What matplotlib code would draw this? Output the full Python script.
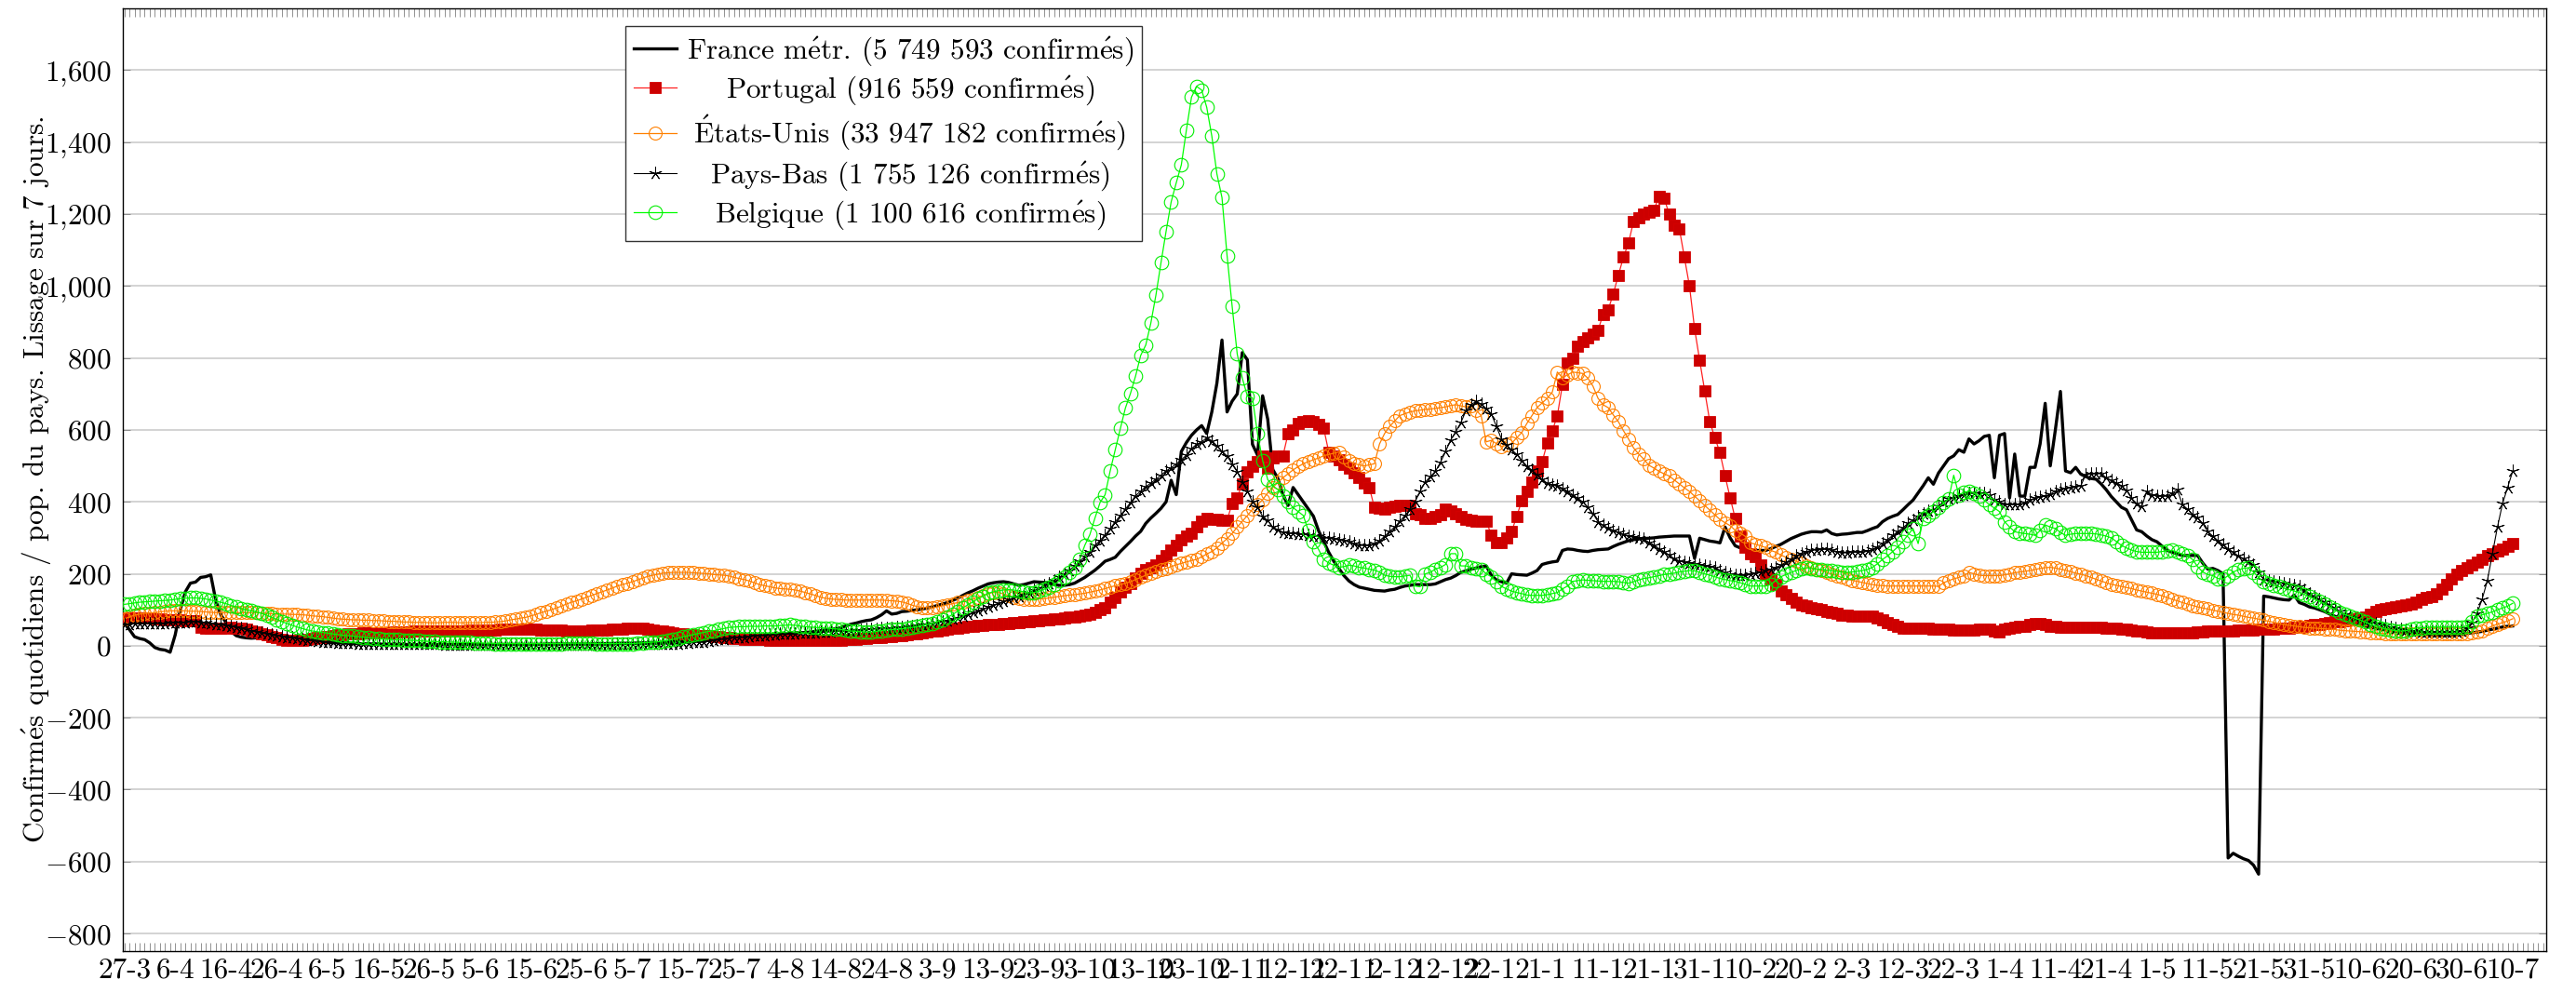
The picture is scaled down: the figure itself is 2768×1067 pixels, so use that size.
import numpy as np
import matplotlib
matplotlib.use("Agg")
import matplotlib.pyplot as plt
from matplotlib.ticker import FixedLocator, MultipleLocator, FuncFormatter

plt.rcParams['font.family'] = ['cmr10', 'DejaVu Serif']
plt.rcParams['mathtext.fontset'] = 'cm'
plt.rcParams['axes.formatter.use_mathtext'] = True

# jours depuis le 27-3-2020, une valeur par jour
france = [
    62, 45, 25, 20, 17, 8, -5, -10, -12, -18,
    30, 100, 150, 174, 177, 190, 192, 197, 125, 85,
    65, 40, 28, 24, 22, 21, 22, 26, 23, 19,
    18, 17, 16, 15, 14, 13, 12, 11, 10, 9,
    9, 8, 8, 7, 7, 6, 6, 5, 5, 5,
    5, 4, 4, 4, 4, 4, 3, 3, 3, 3,
    3, 3, 3, 3, 3, 3, 3, 3, 3, 3,
    3, 3, 3, 4, 4, 4, 4, 4, 4, 4,
    4, 4, 4, 5, 5, 5, 5, 5, 5, 5,
    5, 5, 6, 6, 6, 6, 6, 7, 7, 7,
    7, 8, 8, 8, 9, 9, 10, 11, 12, 13,
    14, 15, 16, 17, 18, 19, 19, 20, 21, 22,
    23, 24, 25, 26, 27, 28, 29, 30, 31, 32,
    33, 34, 35, 36, 37, 38, 40, 42, 44, 46,
    47, 50, 55, 60, 63, 67, 70, 72, 78, 86,
    97, 88, 90, 95, 96, 98, 100, 102, 105, 108,
    112, 116, 120, 126, 132, 140, 147, 153, 160, 166,
    172, 175, 177, 178, 176, 172, 168, 170, 174, 178,
    177, 176, 174, 170, 168, 168, 170, 174, 182, 190,
    200, 210, 222, 235, 240, 246, 262, 276, 290, 305,
    318, 340, 355, 368, 382, 400, 460, 420, 540, 565,
    585, 600, 612, 590, 650, 730, 850, 650, 680, 700,
    815, 795, 560, 530, 695, 630, 490, 465, 420, 390,
    440, 420, 400, 380, 360, 320, 290, 260, 235, 215,
    195, 180, 170, 163, 160, 157, 154, 153, 152, 155,
    157, 162, 166, 168, 170, 170, 170, 170, 172, 178,
    184, 188, 195, 204, 208, 213, 216, 220, 222, 196,
    183, 178, 174, 200, 198, 197, 196, 202, 209, 226,
    230, 233, 235, 265, 269, 268, 265, 263, 262, 265,
    267, 268, 269, 276, 282, 287, 292, 295, 297, 298,
    299, 300, 302, 303, 304, 305, 305, 305, 305, 243,
    299, 295, 291, 289, 286, 330, 300, 278, 272, 268,
    265, 265, 265, 265, 270, 276, 282, 290, 298, 304,
    310, 314, 317, 317, 316, 322, 312, 308, 310, 311,
    313, 315, 315, 320, 326, 331, 345, 354, 360, 365,
    378, 392, 405, 425, 445, 467, 449, 480, 500, 520,
    528, 545, 538, 575, 561, 570, 582, 585, 467, 585,
    590, 411, 533, 416, 416, 496, 496, 561, 674, 500,
    600, 707, 486, 481, 496, 477, 470, 465, 463, 450,
    434, 415, 400, 385, 378, 350, 322, 317, 305, 295,
    289, 277, 265, 260, 255, 251, 251, 251, 251, 230,
    213, 215, 209, 200, -590, -577, -585, -592, -597, -610,
    -635, 138, 136, 133, 130, 128, 127, 141, 120, 115,
    108, 105, 100, 95, 88, 82, 76, 72, 66, 62,
    58, 55, 52, 49, 46, 44, 42, 40, 38, 36,
    35, 34, 33, 32, 31, 30, 30, 30, 30, 31,
    32, 34, 36, 38, 40, 43, 46, 49, 52, 54,
    55,
]

portugal = [
    78, 78, 77, 77, 76, 76, 75, 74, 73, 72,
    72, 71, 70, 70, 69, 52, 50, 49, 49, 48,
    50, 52, 50, 48, 46, 42, 38, 34, 30, 26,
    22, 18, 16, 15, 15, 16, 18, 20, 22, 24,
    26, 28, 30, 31, 32, 33, 34, 35, 35, 36,
    36, 37, 37, 38, 38, 39, 39, 40, 40, 40,
    40, 40, 41, 41, 41, 42, 42, 42, 43, 43,
    43, 44, 44, 44, 45, 45, 45, 45, 45, 45,
    45, 45, 44, 44, 43, 43, 43, 42, 42, 42,
    42, 42, 43, 43, 44, 44, 45, 46, 47, 48,
    48, 49, 48, 46, 44, 42, 40, 38, 36, 34,
    32, 31, 30, 29, 28, 27, 26, 25, 24, 22,
    21, 20, 19, 18, 18, 17, 17, 16, 16, 15,
    15, 15, 15, 15, 15, 15, 15, 15, 15, 15,
    15, 16, 17, 18, 19, 20, 21, 22, 23, 24,
    25, 26, 27, 28, 30, 32, 34, 36, 38, 40,
    42, 44, 46, 48, 50, 52, 54, 55, 56, 57,
    58, 59, 60, 61, 62, 64, 65, 66, 68, 69,
    70, 71, 72, 74, 75, 77, 79, 81, 83, 85,
    88, 93, 100, 107, 120, 135, 150, 162, 174, 188,
    202, 213, 218, 224, 238, 251, 265, 279, 295, 305,
    312, 330, 346, 353, 352, 351, 350, 349, 395, 412,
    451, 484, 500, 512, 528, 495, 523, 528, 528, 589,
    600, 617, 622, 626, 622, 615, 606, 539, 528, 517,
    505, 495, 480, 467, 452, 440, 384, 382, 379, 384,
    387, 390, 390, 390, 366, 364, 355, 355, 360, 364,
    381, 375, 368, 360, 351, 349, 347, 347, 347, 308,
    286, 286, 300, 317, 360, 403, 429, 455, 485, 511,
    563, 597, 640, 726, 787, 800, 834, 847, 856, 866,
    877, 921, 934, 978, 1030, 1080, 1120, 1180, 1190, 1200,
    1205, 1210, 1250, 1245, 1200, 1170, 1160, 1080, 1000, 882,
    794, 708, 623, 578, 537, 472, 412, 354, 304, 274,
    256, 248, 225, 200, 185, 170, 153, 142, 131, 122,
    114, 110, 106, 104, 100, 96, 93, 90, 86, 84,
    83, 82, 82, 82, 82, 78, 72, 65, 58, 54,
    50, 49, 49, 49, 49, 48, 47, 46, 45, 45,
    44, 44, 44, 44, 44, 45, 46, 46, 42, 39,
    45, 49, 51, 53, 54, 58, 63, 61, 58, 54,
    53, 52, 52, 52, 52, 52, 52, 52, 52, 51,
    50, 49, 48, 47, 45, 43, 41, 40, 39, 37,
    35, 35, 35, 35, 35, 36, 36, 37, 38, 39,
    40, 40, 41, 41, 42, 42, 43, 43, 44, 44,
    45, 45, 46, 47, 48, 49, 50, 51, 52, 54,
    56, 58, 60, 62, 64, 66, 68, 70, 72, 75,
    78, 81, 88, 95, 100, 103, 106, 108, 111, 114,
    117, 122, 128, 134, 138, 145, 158, 171, 185, 200,
    208, 216, 224, 233, 241, 250, 257, 264, 270, 276,
    283,
]

etats_unis = [
    75, 80, 85, 88, 90, 91, 92, 94, 96, 97,
    97, 97, 97, 96, 96, 95, 94, 93, 92, 92,
    92, 92, 92, 92, 92, 92, 92, 91, 90, 89,
    88, 88, 88, 87, 87, 86, 85, 83, 82, 81,
    79, 77, 75, 74, 73, 72, 72, 71, 71, 70,
    70, 69, 68, 68, 67, 66, 66, 65, 65, 65,
    64, 64, 64, 65, 65, 65, 64, 64, 64, 64,
    64, 65, 65, 66, 67, 69, 72, 74, 77, 79,
    83, 87, 92, 96, 100, 105, 110, 116, 121, 125,
    130, 135, 140, 145, 150, 155, 160, 166, 170, 174,
    178, 183, 188, 193, 196, 199, 202, 203, 204, 204,
    204, 204, 203, 202, 201, 200, 198, 197, 196, 194,
    190, 187, 184, 180, 175, 170, 167, 164, 161, 159,
    158, 157, 155, 152, 148, 144, 140, 135, 132, 130,
    129, 128, 127, 127, 127, 127, 127, 127, 127, 127,
    126, 125, 124, 122, 118, 113, 109, 107, 106, 105,
    108, 111, 114, 117, 120, 122, 126, 130, 135, 140,
    145, 148, 148, 144, 140, 135, 131, 130, 130, 130,
    130, 131, 133, 135, 137, 139, 141, 142, 144, 146,
    149, 152, 155, 159, 163, 167, 170, 174, 178, 184,
    190, 196, 201, 206, 211, 215, 220, 225, 229, 233,
    237, 240, 247, 255, 262, 272, 285, 298, 312, 330,
    346, 362, 379, 392, 406, 425, 440, 454, 467, 478,
    489, 498, 506, 512, 517, 522, 528, 532, 535, 539,
    525, 515, 506, 503, 500, 503, 506, 561, 590, 610,
    625, 640, 645, 650, 653, 655, 657, 658, 660, 662,
    664, 668, 670, 667, 664, 666, 655, 640, 567, 571,
    562, 554, 558, 563, 578, 593, 618, 640, 662, 675,
    688, 705, 761, 745, 753, 761, 759, 757, 744, 722,
    688, 670, 662, 642, 623, 598, 575, 550, 533, 519,
    502, 494, 485, 478, 472, 461, 450, 439, 429, 416,
    403, 390, 377, 364, 351, 342, 334, 321, 313, 304,
    286, 282, 278, 273, 265, 260, 252, 246, 240, 235,
    229, 223, 217, 213, 209, 204, 199, 195, 190, 185,
    182, 179, 176, 173, 170, 168, 167, 166, 166, 166,
    166, 166, 166, 166, 166, 166, 166, 165, 175, 181,
    186, 190, 195, 204, 200, 196, 195, 195, 195, 195,
    197, 200, 203, 205, 207, 209, 212, 215, 217, 218,
    216, 213, 210, 206, 202, 199, 195, 190, 185, 180,
    175, 171, 168, 165, 162, 159, 155, 152, 149, 146,
    143, 139, 134, 129, 125, 120, 116, 112, 108, 105,
    102, 99, 96, 93, 90, 87, 85, 82, 79, 77,
    74, 71, 68, 65, 62, 59, 57, 55, 53, 51,
    50, 49, 48, 47, 46, 45, 43, 42, 41, 40,
    39, 38, 37, 36, 35, 34, 34, 33, 33, 32,
    32, 32, 32, 32, 32, 32, 32, 32, 32, 32,
    33, 34, 35, 38, 42, 48, 55, 60, 64, 69,
    75,
]

pays_bas = [
    60, 60, 61, 61, 62, 62, 62, 63, 63, 64,
    64, 65, 65, 66, 66, 65, 64, 62, 60, 58,
    56, 54, 51, 48, 45, 42, 39, 36, 33, 31,
    28, 26, 24, 22, 20, 18, 16, 14, 12, 11,
    10, 9, 8, 8, 7, 7, 6, 6, 6, 5,
    5, 5, 5, 4, 4, 4, 4, 4, 4, 4,
    4, 4, 4, 3, 3, 3, 3, 3, 3, 3,
    3, 3, 3, 3, 3, 3, 3, 3, 3, 3,
    3, 3, 3, 3, 3, 3, 3, 3, 3, 3,
    3, 3, 3, 3, 3, 3, 3, 4, 4, 4,
    4, 4, 4, 5, 5, 5, 5, 5, 6, 6,
    7, 8, 9, 10, 11, 13, 15, 17, 19, 21,
    22, 23, 24, 26, 27, 28, 29, 30, 31, 32,
    33, 34, 34, 35, 36, 36, 37, 38, 38, 39,
    40, 40, 41, 42, 43, 44, 45, 46, 47, 48,
    49, 50, 51, 52, 54, 55, 57, 58, 60, 62,
    64, 67, 70, 74, 78, 82, 87, 92, 97, 102,
    108, 113, 118, 123, 128, 133, 138, 143, 148, 154,
    160, 167, 174, 182, 191, 200, 210, 222, 235, 248,
    262, 278, 293, 308, 325, 345, 362, 380, 398, 417,
    430, 442, 452, 463, 474, 486, 495, 505, 517, 530,
    548, 560, 567, 578, 570, 556, 540, 528, 505, 484,
    455, 430, 400, 384, 360, 348, 330, 322, 316, 314,
    312, 311, 310, 308, 306, 304, 301, 299, 297, 295,
    292, 289, 285, 280, 279, 279, 284, 292, 304, 318,
    330, 346, 362, 380, 400, 430, 455, 470, 485, 510,
    540, 572, 595, 620, 653, 670, 679, 672, 660, 645,
    610, 575, 558, 545, 532, 515, 500, 488, 476, 463,
    452, 448, 445, 438, 430, 420, 410, 400, 385, 368,
    345, 335, 327, 321, 316, 310, 306, 303, 300, 296,
    288, 280, 270, 262, 252, 242, 236, 232, 230, 228,
    226, 223, 220, 217, 210, 203, 199, 197, 196, 196,
    198, 201, 204, 208, 213, 218, 224, 232, 240, 250,
    257, 262, 265, 267, 268, 268, 266, 262, 259, 259,
    260, 260, 260, 263, 268, 275, 285, 295, 307, 317,
    328, 340, 350, 360, 368, 374, 378, 388, 401, 408,
    412, 416, 420, 425, 425, 425, 424, 418, 406, 400,
    394, 392, 392, 392, 398, 406, 410, 414, 416, 422,
    430, 434, 437, 439, 442, 444, 477, 478, 479, 479,
    467, 460, 453, 445, 432, 410, 395, 387, 430, 420,
    416, 416, 416, 425, 434, 392, 380, 365, 356, 340,
    317, 305, 292, 281, 270, 260, 250, 242, 235, 225,
    205, 184, 180, 177, 175, 173, 170, 167, 164, 155,
    145, 138, 130, 122, 114, 105, 96, 88, 80, 76,
    72, 68, 65, 62, 59, 56, 52, 49, 46, 43,
    41, 40, 39, 38, 38, 38, 38, 38, 38, 39,
    42, 50, 65, 90, 130, 180, 255, 330, 395, 440,
    485,
]

belgique = [
    115, 117, 119, 121, 122, 123, 124, 125, 126, 127,
    129, 131, 132, 133, 133, 132, 130, 127, 124, 121,
    117, 112, 108, 103, 100, 97, 94, 90, 85, 79,
    73, 67, 62, 57, 52, 48, 44, 41, 39, 37,
    35, 33, 31, 29, 28, 27, 25, 24, 22, 21,
    20, 19, 18, 17, 17, 16, 15, 15, 14, 13,
    12, 12, 11, 11, 10, 10, 9, 9, 9, 8,
    8, 7, 7, 6, 6, 6, 6, 6, 6, 6,
    6, 6, 6, 6, 6, 6, 6, 7, 7, 7,
    7, 7, 7, 6, 6, 6, 6, 6, 6, 6,
    6, 7, 8, 9, 10, 11, 13, 15, 18, 21,
    25, 28, 31, 34, 37, 40, 42, 45, 48, 51,
    52, 53, 53, 54, 54, 54, 55, 55, 55, 56,
    57, 58, 57, 55, 53, 52, 51, 50, 49, 48,
    47, 45, 43, 41, 40, 39, 38, 38, 40, 42,
    44, 45, 46, 47, 49, 51, 53, 56, 59, 62,
    67, 73, 79, 87, 96, 105, 114, 122, 131, 138,
    146, 150, 153, 155, 156, 155, 152, 150, 147, 148,
    152, 157, 162, 170, 180, 192, 205, 218, 240, 279,
    309, 355, 398, 420, 486, 545, 604, 661, 702, 750,
    807, 836, 897, 975, 1065, 1152, 1234, 1287, 1337, 1434,
    1525, 1555, 1545, 1497, 1417, 1312, 1246, 1085, 944, 811,
    744, 694, 689, 589, 515, 462, 445, 434, 417, 400,
    384, 373, 362, 320, 290, 268, 240, 230, 224, 218,
    220, 224, 222, 218, 216, 213, 210, 205, 196, 193,
    192, 192, 194, 196, 166, 164, 200, 204, 213, 218,
    226, 256, 256, 222, 222, 218, 215, 213, 200, 192,
    179, 165, 158, 152, 148, 145, 141, 140, 140, 140,
    142, 145, 148, 158, 166, 179, 181, 183, 182, 181,
    180, 179, 179, 179, 178, 176, 174, 178, 183, 187,
    189, 192, 195, 198, 200, 202, 205, 207, 209, 208,
    204, 200, 196, 192, 187, 184, 181, 179, 175, 171,
    166, 166, 166, 166, 170, 182, 192, 198, 204, 209,
    214, 217, 215, 213, 212, 210, 209, 207, 205, 204,
    205, 207, 209, 212, 218, 228, 240, 250, 262, 275,
    290, 308, 326, 284, 354, 362, 373, 385, 397, 408,
    474, 420, 426, 430, 425, 416, 405, 392, 383, 373,
    345, 330, 317, 314, 312, 310, 307, 320, 336, 330,
    326, 315, 307, 310, 312, 312, 312, 312, 311, 308,
    305, 300, 290, 279, 272, 266, 262, 260, 260, 260,
    260, 262, 264, 265, 260, 255, 250, 240, 220, 205,
    198, 195, 187, 185, 195, 205, 211, 215, 217, 205,
    190, 177, 172, 168, 164, 160, 156, 152, 148, 143,
    136, 130, 123, 116, 108, 100, 93, 87, 82, 77,
    71, 66, 60, 55, 50, 47, 44, 42, 41, 42,
    46, 49, 50, 51, 52, 52, 52, 52, 52, 52,
    52, 55, 68, 82, 86, 90, 94, 100, 105, 110,
    118,
]

tick_labels = ['27-3', '6-4', '16-4', '26-4', '6-5', '16-5', '26-5', '5-6', '15-6',
               '25-6', '5-7', '15-7', '25-7', '4-8', '14-8', '24-8', '3-9', '13-9',
               '23-9', '3-10', '13-10', '23-10', '2-11', '12-11', '22-11', '2-12',
               '12-12', '22-12', '1-1', '11-1', '21-1', '31-1', '10-2', '20-2', '2-3',
               '12-3', '22-3', '1-4', '11-4', '21-4', '1-5', '11-5', '21-5', '31-5',
               '10-6', '20-6', '30-6', '10-7']

# accents en mathtext (cmr10 n'a pas é / É)
E_AIGU = r'$\mathrm{\acute{e}}$'
E_AIGU_MAJ = r'$\mathrm{\acute{E}}$'
labels = ['France m' + E_AIGU + 'tr. (5 749 593 confirm' + E_AIGU + 's)',
          'Portugal (916 559 confirm' + E_AIGU + 's)',
          E_AIGU_MAJ + 'tats-Unis (33 947 182 confirm' + E_AIGU + 's)',
          'Pays-Bas (1 755 126 confirm' + E_AIGU + 's)',
          'Belgique (1 100 616 confirm' + E_AIGU + 's)']
ylabel = ('Confirm' + E_AIGU + 's quotidiens / pop. du pays. Lissage sur 7 jours.')

days = np.arange(len(france))
W, H = 2768, 1067
fig = plt.figure(figsize=(W / 100, H / 100), dpi=100)
ax = fig.add_axes([132 / W, (H - 1022) / H, (2736 - 132) / W, (1022 - 9) / H])

fs = 22.5
ax.plot(days, france, color='black', lw=2.4, label=labels[0], zorder=3)
ax.plot(days, portugal, color='#ff2020', lw=0.9, marker='s', ms=8.2,
        mfc='#cc0000', mec='#d40000', mew=0.6, label=labels[1], zorder=4)
ax.plot(days, etats_unis, color='#ff8000', lw=0.9, marker='o', ms=10,
        mfc='none', mec='#ff8000', mew=0.8, label=labels[2], zorder=5)
ax.plot(days, pays_bas, color='black', lw=0.8, marker=(5, 2, 0), ms=10,
        mew=0.7, label=labels[3], zorder=6)
ax.plot(days, belgique, color='#00ff00', lw=0.9, marker='o', ms=10.5,
        mfc='none', mec='#00ee00', mew=0.8, label=labels[4], zorder=7)

ax.set_xlim(-0.3, 476.6)
ax.set_ylim(-849, 1772)
ax.xaxis.set_major_locator(FixedLocator(np.arange(0, 471, 10)))
ax.set_xticklabels(tick_labels)
ax.xaxis.set_minor_locator(MultipleLocator(1))
ax.yaxis.set_major_locator(FixedLocator(np.arange(-800, 1601, 200)))


def yfmt(v, pos):
    s = f'{abs(int(round(v))):,}'.replace(',', '{,}')
    return '$' + ('-' if v < 0 else '') + s + '$'


ax.yaxis.set_major_formatter(FuncFormatter(yfmt))
ax.grid(axis='y', color='#d0d0d0', lw=1.3)
ax.set_axisbelow(True)
ax.tick_params(axis='both', which='both', direction='in', top=True, right=True,
               labelsize=fs, color='#808080', width=0.6)
ax.tick_params(axis='x', which='both', length=6.5, pad=5)
ax.tick_params(axis='y', which='major', length=6, pad=9)
for sp in ax.spines.values():
    sp.set_linewidth(1.0)
ax.set_ylabel(ylabel, fontsize=fs)
ax.yaxis.set_label_coords(-0.0288, 0.5)

leg = ax.legend(loc='upper left', bbox_to_anchor=((672 - 132) / 2604, (1022 - 28) / 1013),
                borderaxespad=0, fontsize=fs, fancybox=False, framealpha=1,
                edgecolor='#333333', handlelength=1.45, handletextpad=0.35,
                labelspacing=0.22, borderpad=0.3)
leg.get_frame().set_linewidth(1.0)

# centrer les textes de la légende comme dans pgfplots
fig.canvas.draw()
texts = leg.get_texts()
widths = [t.get_window_extent().width for t in texts]
wmax = max(widths)
for t, w in zip(texts, widths):
    t.set_position(((wmax - w) / 2, 0))

fig.savefig('out.png', dpi=100)
